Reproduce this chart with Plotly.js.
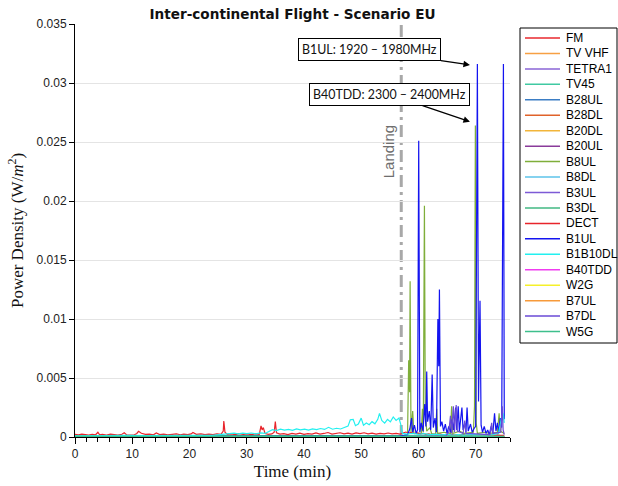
<!DOCTYPE html>
<html>
<head>
<meta charset="utf-8">
<script src="https://cdn.plot.ly/plotly-3.0.1.min.js"></script>
<style>
  html, body { margin: 0; padding: 0; background: #fff; }
  #chart { width: 618px; height: 486px; }
</style>
</head>
<body>
<div id="chart"></div>
<script>
// ---- Measured power density (W/m^2) per band over the flight ----

// Series names, in plotting / legend order
const seriesNames = ['FM', 'TV VHF', 'TETRA1', 'TV45', 'B28UL', 'B28DL', 'B20DL', 'B20UL',
  'B8UL', 'B8DL', 'B3UL', 'B3DL', 'DECT', 'B1UL', 'B1B10DL', 'B40TDD', 'W2G', 'B7UL', 'B7DL', 'W5G'];

// Common coarse time base for the bands that stay close to zero
const tLow = [0, 8, 16, 24, 32, 40, 48, 56, 60, 64, 68, 72, 75];
const vFM     = [0.00003, 0.00002, 0.00003, 0.00002, 0.00003, 0.00002, 0.00003, 0.00002, 0.00003, 0.00002, 0.00003, 0.00002, 0.00002];
const vTVVHF  = [0.00002, 0.00002, 0.00001, 0.00002, 0.00002, 0.00001, 0.00002, 0.00002, 0.00002, 0.00001, 0.00002, 0.00002, 0.00001];
const vTETRA1 = [0.00001, 0.00002, 0.00001, 0.00001, 0.00002, 0.00001, 0.00001, 0.00002, 0.00003, 0.00002, 0.00002, 0.00001, 0.00001];
const vTV45   = [0.00004, 0.00005, 0.00004, 0.00005, 0.00004, 0.00005, 0.00004, 0.00005, 0.00004, 0.00005, 0.00004, 0.00004, 0.00004];
const vB28UL  = [0.00001, 0.00001, 0.00002, 0.00001, 0.00001, 0.00002, 0.00001, 0.00001, 0.00003, 0.00002, 0.00002, 0.00001, 0.00001];
const vB28DL  = [0.00002, 0.00001, 0.00002, 0.00002, 0.00001, 0.00002, 0.00002, 0.00001, 0.00002, 0.00002, 0.00001, 0.00002, 0.00001];
const vB20DL  = [0.00002, 0.00003, 0.00002, 0.00002, 0.00003, 0.00002, 0.00003, 0.00002, 0.00003, 0.00002, 0.00003, 0.00002, 0.00002];
const vB20UL  = [0.00001, 0.00001, 0.00001, 0.00002, 0.00001, 0.00001, 0.00002, 0.00001, 0.00004, 0.00003, 0.00002, 0.00002, 0.00001];
const vB8DL   = [0.00003, 0.00002, 0.00003, 0.00003, 0.00002, 0.00003, 0.00003, 0.00002, 0.00003, 0.00002, 0.00003, 0.00002, 0.00002];
const vB3UL   = [0.00001, 0.00002, 0.00001, 0.00001, 0.00001, 0.00002, 0.00001, 0.00002, 0.00004, 0.00003, 0.00003, 0.00002, 0.00002];
const vB3DL   = [0.00006, 0.00007, 0.00006, 0.00007, 0.00006, 0.00007, 0.00006, 0.00007, 0.00006, 0.00007, 0.00006, 0.00006, 0.00006];
const vB40TDD = [0.00001, 0.00001, 0.00001, 0.00001, 0.00002, 0.00001, 0.00001, 0.00002, 0.00004, 0.00005, 0.00004, 0.00003, 0.00002];
const vW2G    = [0.00001, 0.00001, 0.00001, 0.00001, 0.00001, 0.00001, 0.00001, 0.00001, 0.00002, 0.00002, 0.00002, 0.00001, 0.00001];
const vB7UL   = [0.00001, 0.00001, 0.00001, 0.00001, 0.00001, 0.00001, 0.00001, 0.00002, 0.00003, 0.00003, 0.00002, 0.00002, 0.00001];
const vW5G    = [0.00005, 0.00006, 0.00005, 0.00006, 0.00005, 0.00006, 0.00005, 0.00006, 0.00005, 0.00006, 0.00005, 0.00005, 0.00005];

// DECT: low noise floor with a few short peaks during cruise
const tDECT = [0, 0.6, 1.2, 1.8, 2.4, 3, 3.6, 4, 4.3, 4.8, 5.5, 6.2, 6.9, 7.5, 8.2, 8.6, 9, 9.6, 10.3, 10.8,
  11.1, 11.6, 12.3, 13, 13.7, 14.2, 14.8, 15.5, 16.2, 17, 17.7, 18.4, 19, 19.7, 20.3, 20.6, 21.2, 22, 22.7, 23.4,
  24.1, 24.8, 25.5, 25.9, 26, 26.2, 26.6, 27.3, 28, 28.7, 29.4, 30.1, 30.8, 31.5, 32.2, 32.5, 32.7, 32.9, 33.2, 33.8,
  34.4, 34.8, 35, 35.2, 35.8, 36.5, 37.2, 37.9, 38.6, 39.3, 40, 40.7, 41.4, 42.1, 42.8, 43.5, 44.2, 44.9, 45.6, 46.3,
  47, 47.7, 48.4, 49.1, 49.8, 50.5, 51.2, 51.9, 52.6, 53.3, 54, 54.7, 55.4, 56.1, 56.8, 57.3, 57.8, 58.3, 58.8, 59.3,
  59.8, 60.3, 60.8, 61.3, 61.8, 62.3, 62.8, 63.3, 63.8, 64.3, 64.8, 65.3, 65.8, 66.3, 66.8, 67.3, 67.8, 68.3, 68.8, 69.3,
  69.8, 70.3, 70.8, 71.3, 71.8, 72.3, 72.8, 73.3, 73.8, 74.3, 74.8, 75];
const vDECT = [0.00022, 0.00018, 0.00025, 0.00020, 0.00016, 0.00023, 0.00019, 0.00040, 0.00018, 0.00022,
  0.00017, 0.00024, 0.00020, 0.00016, 0.00023, 0.00036, 0.00019, 0.00021, 0.00017, 0.00030,
  0.00048, 0.00032, 0.00022, 0.00025, 0.00019, 0.00034, 0.00020, 0.00024, 0.00018, 0.00023,
  0.00027, 0.00019, 0.00024, 0.00020, 0.00026, 0.00038, 0.00022, 0.00027, 0.00020, 0.00025,
  0.00021, 0.00026, 0.00022, 0.00050, 0.00136, 0.00040, 0.00022, 0.00027, 0.00021, 0.00028,
  0.00022, 0.00026, 0.00020, 0.00027, 0.00023, 0.00095, 0.00060, 0.00080, 0.00030, 0.00022,
  0.00026, 0.00040, 0.00130, 0.00035, 0.00024, 0.00028, 0.00021, 0.00030, 0.00024, 0.00032,
  0.00022, 0.00029, 0.00025, 0.00034, 0.00024, 0.00030, 0.00038, 0.00025, 0.00031, 0.00036,
  0.00026, 0.00033, 0.00024, 0.00035, 0.00028, 0.00036, 0.00026, 0.00032, 0.00025, 0.00030,
  0.00027, 0.00034, 0.00026, 0.00031, 0.00025, 0.00036, 0.00042, 0.00033, 0.00040, 0.00028,
  0.00035, 0.00024, 0.00030, 0.00022, 0.00027, 0.00021, 0.00025, 0.00020, 0.00024, 0.00019,
  0.00023, 0.00018, 0.00022, 0.00017, 0.00021, 0.00018, 0.00023, 0.00017, 0.00020, 0.00016,
  0.00021, 0.00017, 0.00019, 0.00015, 0.00020, 0.00016, 0.00019, 0.00015, 0.00018, 0.00014,
  0.00017, 0.00015];

// B1B10DL: rises during the descent, peaks before landing
const tB1B10DL = [0, 3, 6, 9, 12, 15, 18, 21, 24, 27, 27.8, 28.5, 29.3, 30, 30.8, 31.6, 32.4, 33.2, 34, 34.5,
  35.2, 35.9, 36.6, 37.3, 38, 38.7, 39.4, 40.1, 40.8, 41.5, 42.2, 42.9, 43.6, 44.3, 45, 45.7, 46.4, 47.1, 47.7, 48.1,
  48.6, 49, 49.5, 50, 50.4, 50.9, 51.4, 51.9, 52.4, 52.9, 53.2, 53.6, 54.1, 54.6, 55.1, 55.6, 56.1, 56.6, 56.9, 57.2,
  58, 59, 60, 61, 62, 63, 64, 65, 66, 67, 68, 69, 70, 71, 72, 73, 74, 74.5, 74.8, 75];
const vB1B10DL = [0.00010, 0.00012, 0.00009, 0.00013, 0.00011, 0.00014, 0.00012, 0.00015, 0.00013, 0.00024,
  0.00032, 0.00026, 0.00033, 0.00028, 0.00034, 0.00027, 0.00035, 0.00030, 0.00048, 0.00062,
  0.00055, 0.00066, 0.00058, 0.00064, 0.00056, 0.00068, 0.00060, 0.00066, 0.00058, 0.00069,
  0.00062, 0.00072, 0.00064, 0.00082, 0.00066, 0.00074, 0.00068, 0.00080, 0.00092, 0.00146,
  0.00150, 0.00096, 0.00110, 0.00160, 0.00100, 0.00118, 0.00104, 0.00130, 0.00112, 0.00150,
  0.00200, 0.00140, 0.00118, 0.00150, 0.00128, 0.00170, 0.00140, 0.00160, 0.00110, 0.00030,
  0.00025, 0.00030, 0.00022, 0.00028, 0.00020, 0.00025, 0.00018, 0.00022, 0.00017, 0.00021,
  0.00016, 0.00020, 0.00018, 0.00022, 0.00017, 0.00020, 0.00030, 0.00160, 0.00200, 0.00120];

// B8UL: uplink bursts after landing
const tB8UL = [0, 20, 40, 57, 58.1, 58.3, 58.45, 58.55, 58.7, 59, 59.2, 60.5, 60.7, 60.85, 61.05, 61.2, 61.45, 62, 62.3, 63,
  63.2, 63.35, 64.5, 65.6, 65.8, 66, 67.2, 68, 69.6, 69.8, 69.95, 70.1, 70.3, 71.5, 72.5, 73.8, 74.1, 74.3, 75];
const vB8UL = [0.00004, 0.00005, 0.00004, 0.00006, 0.00020, 0.00650, 0.00380, 0.01320, 0.00040, 0.00220,
  0.00030, 0.00030, 0.00240, 0.00040, 0.01960, 0.00220, 0.00050, 0.00080, 0.00030, 0.00020,
  0.00240, 0.00030, 0.00040, 0.00030, 0.00260, 0.00030, 0.00050, 0.00030, 0.00040, 0.00260,
  0.02640, 0.00120, 0.00030, 0.00040, 0.00030, 0.00040, 0.00200, 0.00050, 0.00030];

// B1UL: uplink bursts after landing (largest peaks at 70.3 and 74.85 min)
const tB1UL = [0, 15, 30, 45, 56.5, 57.5, 58.1, 58.5, 58.8, 59, 59.3, 59.6, 59.85, 60.05, 60.25, 60.5, 60.8, 61.1, 61.3, 61.45,
  61.6, 61.9, 62.15, 62.4, 62.6, 62.9, 63.15, 63.4, 63.55, 63.67, 63.85, 64.1, 64.4, 64.7, 65, 65.3, 65.6, 65.9, 66.15, 66.5,
  66.7, 66.95, 67.15, 67.6, 67.8, 68.1, 68.3, 68.5, 68.7, 69.1, 69.4, 69.7, 70, 70.3, 70.5, 70.76, 70.95, 71.2, 71.5, 71.8,
  72.1, 72.4, 72.7, 73, 73.3, 73.55, 73.8, 74.05, 74.3, 74.55, 74.85, 75];
const vB1UL = [0.00003, 0.00004, 0.00003, 0.00005, 0.00006, 0.00015, 0.00020, 0.00070, 0.00160, 0.00040,
  0.00100, 0.00030, 0.00060, 0.02510, 0.00040, 0.00120, 0.00050, 0.00280, 0.00090, 0.00555,
  0.00130, 0.00220, 0.00060, 0.00530, 0.00080, 0.00160, 0.00040, 0.01000, 0.00600, 0.01250,
  0.00090, 0.00130, 0.00050, 0.00110, 0.00030, 0.00090, 0.00040, 0.00150, 0.00060, 0.00250,
  0.00060, 0.00260, 0.00050, 0.00250, 0.00060, 0.00120, 0.00040, 0.00250, 0.00050, 0.00110,
  0.00040, 0.00070, 0.00090, 0.03160, 0.00300, 0.01155, 0.00100, 0.00040, 0.00090, 0.00030,
  0.00060, 0.00020, 0.00090, 0.00030, 0.00200, 0.00050, 0.00120, 0.00040, 0.00160, 0.00080,
  0.03160, 0.00150];

// B7DL: a handful of small bursts after landing
const tB7DL = [0, 30, 57, 64.8, 65.3, 65.6, 65.8, 66.1, 66.3, 66.6, 66.8, 67.8, 68.1, 68.3, 72.5, 72.8, 73, 74.4, 74.65, 74.8, 75];
const vB7DL = [0.00002, 0.00002, 0.00003, 0.00010, 0.00040, 0.00180, 0.00030, 0.00260, 0.00040, 0.00270,
  0.00050, 0.00030, 0.00140, 0.00030, 0.00020, 0.00120, 0.00030, 0.00040, 0.00260, 0.00060, 0.00020];

// Line colours, same order as seriesNames
const seriesColors = ['#e8292e', '#f7a043', '#8a64d6', '#40c9a2', '#3b7dc4', '#e0622a', '#f2b53a', '#8a3b9a',
  '#7fae3a', '#5cc3ea', '#7d5ad6', '#42b883', '#e8242b', '#1414f0', '#22f0f0', '#f03cf0', '#f5f02a', '#f79a3a',
  '#6a4ad6', '#3dbf8c'];

// y-axis ticks
const yTickVals = [0, 0.005, 0.01, 0.015, 0.02, 0.025, 0.03, 0.035];
const yTickText = ['0', '0.005', '0.01', '0.015', '0.02', '0.025', '0.03', '0.035'];

// Time of landing (min)
const landingTime = 57;

// Band call-outs
const callouts = [
  { text: 'B1UL: 1920 – 1980MHz',   t: 69.0, v: 0.03153 },
  { text: 'B40TDD: 2300 – 2400MHz', t: 69.0, v: 0.02672 }
];

// ---- x/y pairs for every band ----
const seriesData = {
  'FM': [tLow, vFM], 'TV VHF': [tLow, vTVVHF], 'TETRA1': [tLow, vTETRA1], 'TV45': [tLow, vTV45],
  'B28UL': [tLow, vB28UL], 'B28DL': [tLow, vB28DL], 'B20DL': [tLow, vB20DL], 'B20UL': [tLow, vB20UL],
  'B8UL': [tB8UL, vB8UL], 'B8DL': [tLow, vB8DL], 'B3UL': [tLow, vB3UL], 'B3DL': [tLow, vB3DL],
  'DECT': [tDECT, vDECT], 'B1UL': [tB1UL, vB1UL], 'B1B10DL': [tB1B10DL, vB1B10DL], 'B40TDD': [tLow, vB40TDD],
  'W2G': [tLow, vW2G], 'B7UL': [tLow, vB7UL], 'B7DL': [tB7DL, vB7DL], 'W5G': [tLow, vW5G]
};

const traces = seriesNames.map((name, i) => ({
  type: 'scatter',
  mode: 'lines',
  name: name,
  x: seriesData[name][0],
  y: seriesData[name][1],
  line: { color: seriesColors[i], width: name === 'B3DL' ? 2.2 : 1.2 },
  hoverinfo: 'skip'
}));

// ---- layout geometry (pixels) ----
const W = 618, H = 486;
const M = { l: 75, r: 108, t: 24, b: 49 };
const plotW = W - M.l - M.r, plotH = H - M.t - M.b;
const px2x = p => (p - M.l) / plotW;          // pixel -> paper x
const px2y = p => (H - M.b - p) / plotH;      // pixel -> paper y

// Hand-built legend box (tight row spacing)
const legendShapes = [{
  type: 'rect', xref: 'paper', yref: 'paper', layer: 'above',
  x0: px2x(520), x1: px2x(617), y0: px2y(343), y1: px2y(28),
  line: { color: '#000', width: 1 }, fillcolor: 'rgba(255,255,255,1)'
}];
const legendAnns = [];
const rowStart = 38, rowStep = 15.45;
seriesNames.forEach((name, i) => {
  const yp = px2y(rowStart + i * rowStep);
  legendShapes.push({
    type: 'line', xref: 'paper', yref: 'paper', layer: 'above',
    x0: px2x(525), x1: px2x(560), y0: yp, y1: yp,
    line: { color: seriesColors[i], width: 1.5 }
  });
  legendAnns.push({
    xref: 'paper', yref: 'paper', x: px2x(564), y: yp, xanchor: 'left', yanchor: 'middle',
    text: name, showarrow: false, font: { family: 'Liberation Sans, Arial', size: 12, color: '#000' }
  });
});

const calloutAnns = callouts.map((c, i) => ({
  x: c.t, y: c.v, xref: 'x', yref: 'y',
  text: c.text, showarrow: true,
  ax: i === 0 ? -100 : -80, ay: i === 0 ? -15 : -27,
  arrowhead: 2, arrowsize: 1, arrowwidth: 1.3, arrowcolor: '#000',
  bgcolor: '#fff', bordercolor: '#000', borderwidth: 1, borderpad: 3,
  font: { family: 'Lato', size: 12.4, color: '#111' }
}));

const layout = {
  width: W, height: H,
  margin: M,
  paper_bgcolor: '#fff', plot_bgcolor: '#fff',
  showlegend: false,
  title: {
    text: 'Inter-continental Flight - Scenario EU',
    font: { family: 'DejaVu Sans', size: 13.6, color: '#111', weight: 'bold' },
    xref: 'paper', x: 0.5, xanchor: 'center',
    yref: 'container', y: 1 - 14 / H, yanchor: 'middle'
  },
  xaxis: {
    range: [0, 76], tickmode: 'linear', tick0: 0, dtick: 10,
    ticks: 'outside', ticklen: 6, tickcolor: '#000', tickwidth: 1,
    minor: { tickmode: 'linear', tick0: 0, dtick: 2, ticks: 'outside', ticklen: 4, tickcolor: '#000', showgrid: false },
    showline: true, linecolor: '#000', linewidth: 1,
    showgrid: false, zeroline: false, automargin: false,
    tickfont: { family: 'Liberation Sans, Arial', size: 12, color: '#222' },
    title: { text: 'Time (min)', font: { family: 'Liberation Serif', size: 17, color: '#111' }, standoff: 4 }
  },
  yaxis: {
    range: [0, 0.035], tickmode: 'array', tickvals: yTickVals, ticktext: yTickText,
    ticks: 'outside', ticklen: 5, tickcolor: '#000', tickwidth: 1,
    showline: true, linecolor: '#000', linewidth: 1,
    showgrid: true, gridcolor: '#e4e4e4', gridwidth: 1, zeroline: false, automargin: false,
    tickfont: { family: 'Liberation Sans, Arial', size: 12, color: '#222' },
    title: { text: 'Power Density (W/<i>m</i><sup>2</sup>)', font: { family: 'Liberation Serif', size: 17, color: '#111' }, standoff: 8 }
  },
  shapes: [{
    type: 'line', xref: 'x', yref: 'y', layer: 'below',
    x0: landingTime, x1: landingTime, y0: 0, y1: 0.035,
    line: { color: '#a8a8a8', width: 3, dash: '12px,5px,3px,5px' }
  }].concat(legendShapes),
  annotations: [{
    x: landingTime, y: 0.02415, xref: 'x', yref: 'y', xshift: -13,
    text: 'Landing', textangle: -90, showarrow: false,
    font: { family: 'Liberation Sans, Arial', size: 15, color: '#6e6e6e' }
  }].concat(calloutAnns, legendAnns)
};

Plotly.newPlot('chart', traces, layout, { staticPlot: true, displayModeBar: false });
</script>
</body>
</html>
